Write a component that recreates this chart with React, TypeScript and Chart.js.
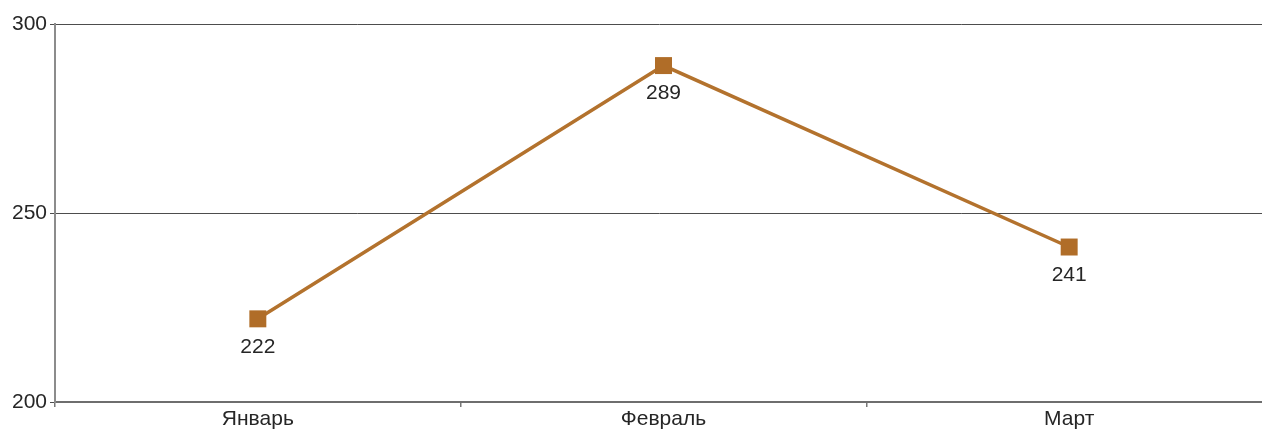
import React, { useEffect, useRef } from "react";
import { Chart, registerables } from "chart.js";

Chart.register(...registerables);

const categories = ["Январь", "Февраль", "Март"];
const values = [222, 289, 241];
const yMin = 200;
const yMax = 300;
const yStep = 50;

const FONT = "'Liberation Sans', Arial, Helvetica, sans-serif";

// The reference plot area runs ~10px past the right edge of the picture.
const extendRight = {
  id: "extendRight",
  afterLayout(chart: any) {
    const target = chart.width + 10;
    const area = chart.chartArea;
    area.right = target;
    area.width = area.right - area.left;
    const xs = chart.scales.x;
    xs.right = target;
    xs.width = xs.right - xs.left;
    xs.configure();
  },
};

const valueLabels = {
  id: "valueLabels",
  afterDatasetsDraw(chart: any) {
    const ctx = chart.ctx;
    const meta = chart.getDatasetMeta(0);
    ctx.save();
    ctx.font = `21px ${FONT}`;
    ctx.fillStyle = "#262626";
    ctx.textAlign = "center";
    ctx.textBaseline = "middle";
    meta.data.forEach((pt: any, i: number) => {
      ctx.fillText(String(values[i]), pt.x, pt.y + 28);
    });
    ctx.restore();
  },
};

export default function App() {
  const ref = useRef<HTMLCanvasElement | null>(null);
  useEffect(() => {
    if (!ref.current) return;
    const chart = new Chart(ref.current, {
      type: "line",
      data: {
        labels: categories,
        datasets: [
          {
            data: values,
            borderColor: "#b3722d",
            backgroundColor: "#b3722d",
            borderWidth: 3.5,
            pointStyle: "rect",
            pointRadius: 12,
            pointBorderWidth: 0,
            pointBackgroundColor: "#b06d28",
            tension: 0,
          },
        ],
      },
      options: {
        responsive: true,
        maintainAspectRatio: false,
        animation: false,
        layout: { padding: { top: 24, right: 0, left: 0, bottom: 0 } },
        plugins: { legend: { display: false }, tooltip: { enabled: false } },
        scales: {
          x: {
            offset: true,
            grid: {
              offset: true,
              drawOnChartArea: false,
              drawTicks: true,
              tickLength: 5,
              color: "#777",
              lineWidth: 1.5,
            },
            border: { color: "#6e6e6e", width: 2 },
            ticks: {
              color: "#262626",
              font: { family: FONT, size: 21 },
              padding: 0,
              maxRotation: 0,
            },
            afterFit: (s: any) => {
              s.height = 28;
              s.paddingLeft = 0;
              s.paddingRight = 0;
            },
          },
          y: {
            min: yMin,
            max: yMax,
            ticks: {
              stepSize: yStep,
              color: "#262626",
              font: { family: FONT, size: 21 },
              padding: 3,
            },
            grid: {
              color: "#4d4d4d",
              lineWidth: 1,
              tickLength: 5,
              drawTicks: true,
            },
            border: { color: "#8c8c8c", width: 2 },
            afterFit: (s: any) => {
              s.width = 55;
            },
          },
        },
      },
      plugins: [extendRight, valueLabels],
    });
    return () => chart.destroy();
  }, []);
  return (
    <div
      style={{
        position: "fixed",
        left: 0,
        top: 0,
        width: 1262,
        height: 430,
        overflow: "hidden",
        background: "#fff",
      }}
    >
      <div style={{ position: "relative", width: 1262, height: 430 }}>
        <canvas ref={ref} />
      </div>
    </div>
  );
}
